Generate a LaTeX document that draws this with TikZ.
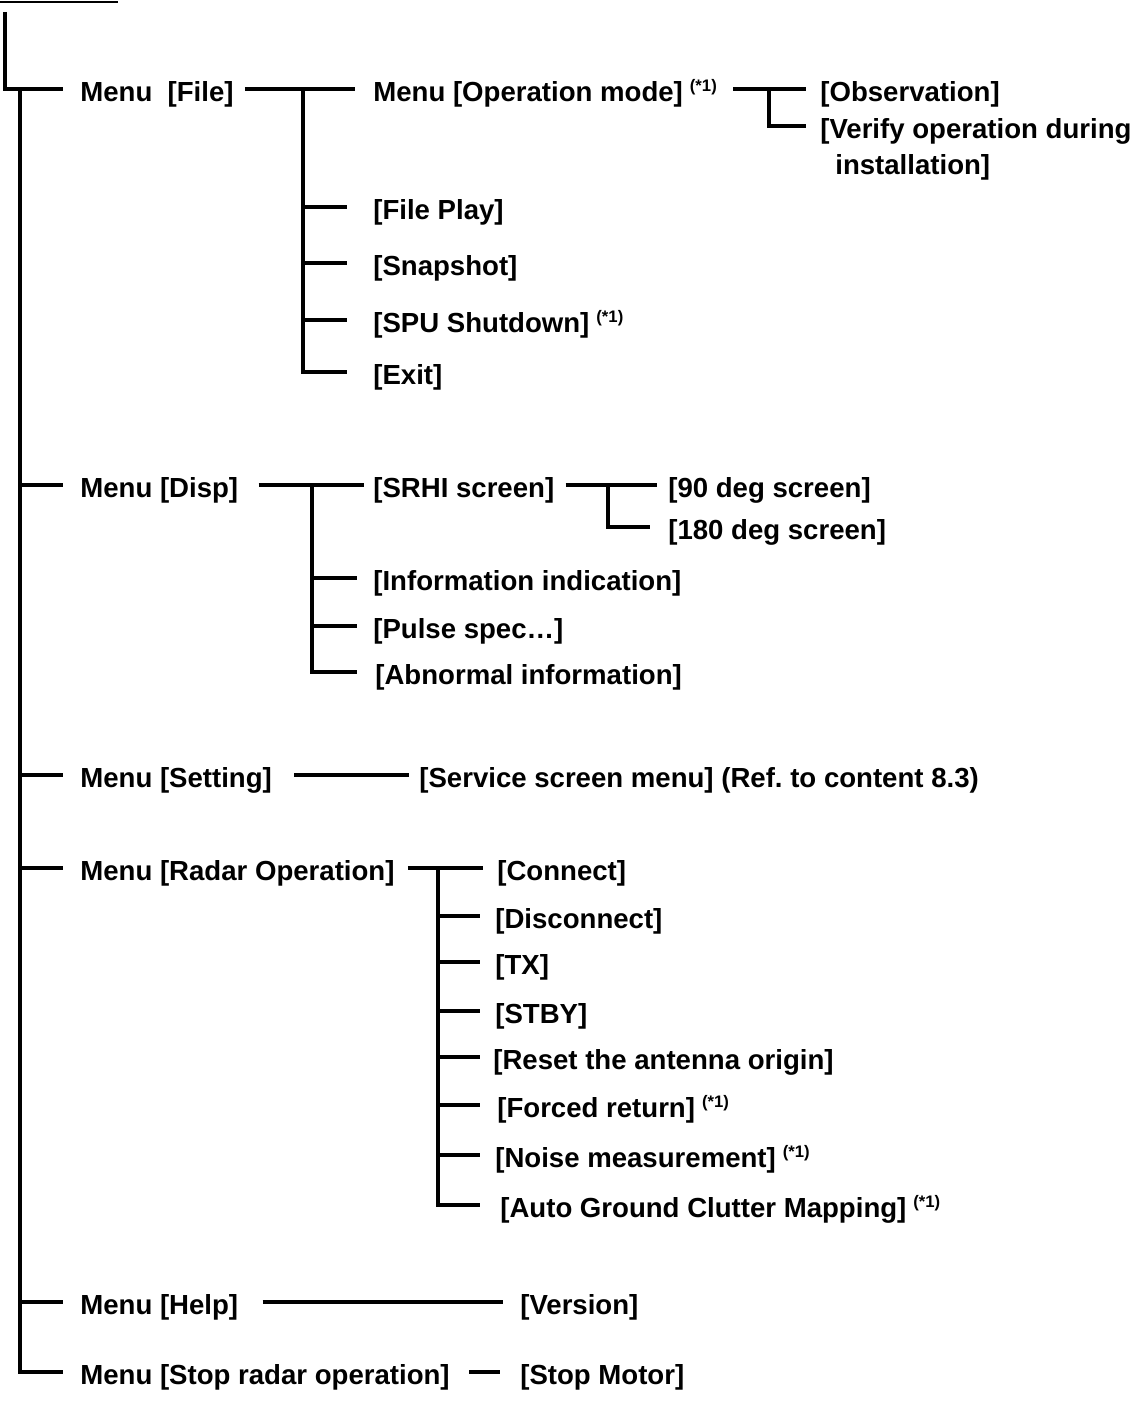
\documentclass[tikz,border=0pt]{standalone}
\usepackage{fontspec}
\setmainfont{Liberation Sans}
\usepackage{tikz}
\usetikzlibrary{positioning}

\newcommand{\noteone}{\hspace{4pt}\raisebox{6pt}{\fontsize{9.5pt}{10pt}\selectfont(*1)}}

\begin{document}
\begin{tikzpicture}[x=0.02cm,y=-0.02cm,
  item/.style={anchor=west, inner sep=0pt, text height=17.2pt, text depth=2.5pt,
    font=\fontsize{15.7pt}{18pt}\selectfont\bfseries},
  conn/.style={line width=2.2pt}]
  \useasboundingbox (0,0) rectangle (1144,1412);

  \draw[line width=1.4pt] (0,2) -- (118,2);

  % main menus
  \node[item] (mfile) at (80,89) {Menu\ \ [File]};
  \node[item] (mdisp) at (80,485) {Menu [Disp]};
  \node[item] (mset) at (80,775) {Menu [Setting]};
  \node[item] (mradar) at (80,868) {Menu [Radar Operation]};
  \node[item] (mhelp) at (80,1302) {Menu [Help]};
  \node[item] (mstop) at (80,1372) {Menu [Stop radar operation]};

  \coordinate (trunk) at (20,89);
  \draw[conn] (5,12) -- (5,89) -- ([xshift=-0.34cm]mfile.west);
  \draw[conn] (trunk) |- ([xshift=-0.34cm]mstop.west);
  \foreach \m in {mdisp,mset,mradar,mhelp}
    \draw[conn] (trunk |- \m.west) -- ([xshift=-0.34cm]\m.west);

  % File
  \node[item] (opmode) at (373,89) {Menu [Operation mode]\noteone};
  \node[item] (fplay) at (373,207) {[File Play]};
  \node[item] (snap) at (373,263) {[Snapshot]};
  \node[item] (spu) at (373,320) {[SPU Shutdown]\noteone};
  \node[item] (fexit) at (373,372) {[Exit]};
  \coordinate (jfile) at (303,89);
  \draw[conn] ([xshift=0.22cm]mfile.east) -- ([xshift=-0.36cm]opmode.west);
  \draw[conn] (jfile) |- ++(0,283) -- +(44,0);
  \foreach \c in {fplay,snap,spu}
    \draw[conn] (jfile |- \c.west) -- +(44,0);

  \node[item] (observ) at (820,89) {[Observation]};
  \node[item] (verify) at (820,126) {[Verify operation during};
  \node[item] (install) at (835,162) {installation]};
  \coordinate (jmode) at (769,89);
  \draw[conn] ([xshift=0.32cm]opmode.east) -- ([xshift=-0.28cm]observ.west);
  \draw[conn] (jmode) |- ([xshift=-0.28cm]verify.west);

  % Disp
  \node[item] (srhi) at (373,485) {[SRHI screen]};
  \node[item] (info) at (373,578) {[Information indication]};
  \node[item] (pulse) at (373,626) {[Pulse spec…]};
  \node[item] (abnorm) at (375,672) {[Abnormal information]};
  \coordinate (jdisp) at (312,485);
  \draw[conn] ([xshift=0.4cm]mdisp.east) -- ([xshift=-0.18cm]srhi.west);
  \draw[conn] (jdisp) |- ++(0,187) -- +(45,0);
  \foreach \c in {info,pulse}
    \draw[conn] (jdisp |- \c.west) -- +(45,0);

  \node[item] (deg90) at (668,485) {[90 deg screen]};
  \node[item] (deg180) at (668,527) {[180 deg screen]};
  \coordinate (jsrhi) at (608,485);
  \draw[conn] ([xshift=0.22cm]srhi.east) -- ([xshift=-0.22cm]deg90.west);
  \draw[conn] (jsrhi) |- ([xshift=-0.36cm]deg180.west);

  % Setting
  \node[item] (service) at (419,775) {[Service screen menu] (Ref.\ to content 8.3)};
  \draw[conn] ([xshift=0.44cm]mset.east) -- ([xshift=-0.2cm]service.west);

  % Radar Operation
  \node[item] (connect) at (497,868) {[Connect]};
  \node[item] (disconn) at (495,916) {[Disconnect]};
  \node[item] (tx) at (495,962) {[TX]};
  \node[item] (stby) at (495,1011) {[STBY]};
  \node[item] (reset) at (493,1057) {[Reset the antenna origin]};
  \node[item] (forced) at (497,1105) {[Forced return]\noteone};
  \node[item] (noise) at (495,1155) {[Noise measurement]\noteone};
  \node[item] (agcm) at (500,1205) {[Auto Ground Clutter Mapping]\noteone};
  \coordinate (jradar) at (438,868);
  \draw[conn] ([xshift=0.26cm]mradar.east) -- ([xshift=-0.28cm]connect.west);
  \draw[conn] (jradar) |- ++(0,337) -- +(42,0);
  \foreach \c in {disconn,tx,stby,reset,forced,noise}
    \draw[conn] (jradar |- \c.west) -- +(42,0);

  % Help, Stop
  \node[item] (version) at (520,1302) {[Version]};
  \draw[conn] ([xshift=0.48cm]mhelp.east) -- ([xshift=-0.34cm]version.west);
  \node[item] (stopmot) at (520,1372) {[Stop Motor]};
  \draw[conn] ([xshift=0.38cm]mstop.east) -- ([xshift=-0.4cm]stopmot.west);
\end{tikzpicture}
\end{document}
